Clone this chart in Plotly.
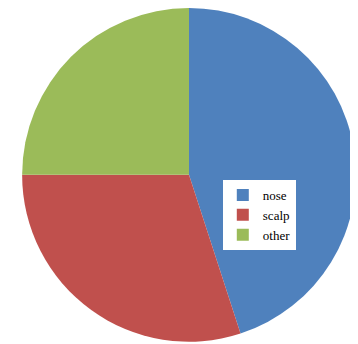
import plotly.graph_objects as go

labels = ["nose", "scalp", "other"]
values = [45, 30, 25]
colors = ["#4F81BD", "#C0504D", "#9BBB59"]

fig = go.Figure(go.Pie(
    labels=labels,
    values=values,
    sort=False,
    direction="clockwise",
    rotation=0,
    textinfo="none",
    hoverinfo="label+percent",
    marker=dict(colors=colors, line=dict(width=0)),
    domain=dict(x=[0.039, 0.972], y=[0.03, 1.0]),
))

fig.update_layout(
    width=358, height=344,
    margin=dict(l=0, r=0, t=0, b=0),
    paper_bgcolor="white",
    plot_bgcolor="white",
    showlegend=True,
    legend=dict(
        x=0.60, y=0.50, xanchor="left", yanchor="top",
        bgcolor="white",
        font=dict(family="Liberation Serif", size=13, color="black"),
        itemwidth=30,
        tracegroupgap=0,
    ),
)

fig.write_html("out.html")
